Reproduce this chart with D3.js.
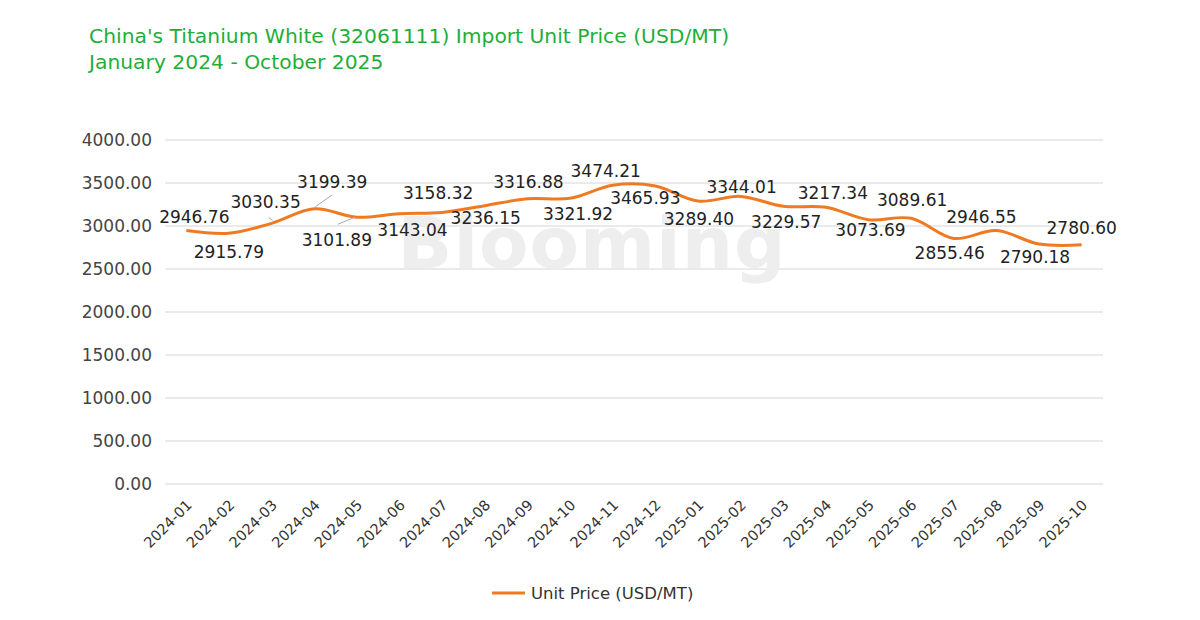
<!DOCTYPE html>
<html>
<head>
<meta charset="utf-8">
<script src="https://cdn.jsdelivr.net/npm/d3@7"></script>
<style>
  body { margin: 0; background: #fff; }
  svg text { font-family: "DejaVu Sans", sans-serif; }
</style>
</head>
<body>
<div id="chart"></div>
<script>
var months = ["2024-01","2024-02","2024-03","2024-04","2024-05","2024-06","2024-07","2024-08","2024-09","2024-10","2024-11","2024-12",
  "2025-01","2025-02","2025-03","2025-04","2025-05","2025-06","2025-07","2025-08","2025-09","2025-10"];
var unitPrice = [2946.76, 2915.79, 3030.35, 3199.39, 3101.89, 3143.04, 3158.32, 3236.15, 3316.88, 3321.92, 3474.21, 3465.93,
  3289.40, 3344.01, 3229.57, 3217.34, 3073.69, 3089.61, 2855.46, 2946.55, 2790.18, 2780.60];
var yTicks = [0, 500, 1000, 1500, 2000, 2500, 3000, 3500, 4000];

// label placement (pixel offsets from the point), like excel's dragged labels
var labelDx = [8, 0, -6, 18, -20, 13, -4, 1, 1, 8, -7, -10, 1, 1, 3, 7, 2, 1, -4, -15, -4, 0];
var labelDy = [-14, 19, -21, -27, 23, 16, -19, 12, -17, 16, -14, 12, 18, -9, 16, -14, 10, -18, 15, -14, 13, -17];
// leader lines: index, then offsets from the point [x1, y1, x2, y2]
var leaderLines = [
  {i: 2, o: [-3, -6, 1, -3]},
  {i: 3, o: [1, -2, 18, -14]},
  {i: 4, o: [-19, 7, -2, 0]}
];

var width = 1200, height = 620;
var margin = {top: 140, right: 97, bottom: 136, left: 165};

var svg = d3.select("#chart").append("svg")
  .attr("width", width)
  .attr("height", height);

// title
svg.append("text").attr("x", 89).attr("y", 43)
  .attr("fill", "#1fae3a").attr("font-size", 20.3)
  .text("China's Titanium White (32061111) Import Unit Price (USD/MT)");
svg.append("text").attr("x", 89).attr("y", 69)
  .attr("fill", "#1fae3a").attr("font-size", 20.3)
  .text("January 2024 - October 2025");

var x = d3.scalePoint()
  .domain(months)
  .range([margin.left, width - margin.right])
  .padding(0.5);

var y = d3.scaleLinear()
  .domain([0, 4000])
  .range([height - margin.bottom, margin.top]);

// gridlines
svg.append("g").selectAll("line").data(yTicks).enter().append("line")
  .attr("x1", margin.left).attr("x2", width - margin.right)
  .attr("y1", d => y(d)).attr("y2", d => y(d))
  .attr("stroke", "#e3e3e3").attr("stroke-width", 1.5);

// watermark
svg.append("text").attr("x", 592).attr("y", 268)
  .attr("text-anchor", "middle").attr("font-size", 72).attr("font-weight", "bold")
  .attr("fill", "#eeeeee").attr("letter-spacing", 1)
  .text("Blooming");

// y axis labels
var yAxis = d3.axisLeft(y).tickValues(yTicks).tickFormat(d3.format(".2f")).tickSize(0).tickPadding(13);
var gy = svg.append("g").attr("transform", "translate(" + margin.left + ",0)").call(yAxis);
gy.select(".domain").remove();
gy.selectAll("text").attr("font-size", 17).attr("fill", "#444").attr("font-family", "DejaVu Sans, sans-serif");

// x axis labels
var xAxis = d3.axisBottom(x).tickSize(0).tickPadding(0);
var gx = svg.append("g").attr("transform", "translate(0," + (height - margin.bottom) + ")").call(xAxis);
gx.select(".domain").remove();
gx.selectAll("text")
  .attr("font-size", 14.5).attr("fill", "#333").attr("font-family", "DejaVu Sans, sans-serif")
  .attr("text-anchor", "end")
  .attr("dy", null)
  .attr("transform", "translate(6,22) rotate(-45)");

// line
var line = d3.line()
  .x((d, i) => x(months[i]))
  .y(d => y(d))
  .curve(d3.curveCatmullRom.alpha(0.5));

svg.append("path").datum(unitPrice)
  .attr("d", line)
  .attr("fill", "none")
  .attr("stroke", "#f07a22")
  .attr("stroke-width", 3);

// leader lines
svg.append("g").selectAll("line").data(leaderLines).enter().append("line")
  .attr("x1", d => x(months[d.i]) + d.o[0])
  .attr("y1", d => y(unitPrice[d.i]) + d.o[1])
  .attr("x2", d => x(months[d.i]) + d.o[2])
  .attr("y2", d => y(unitPrice[d.i]) + d.o[3])
  .attr("stroke", "#aaa").attr("stroke-width", 1);

// data labels
svg.append("g").selectAll("text").data(unitPrice).enter().append("text")
  .attr("x", (d, i) => x(months[i]) + labelDx[i])
  .attr("y", (d, i) => y(d) + labelDy[i])
  .attr("dy", "0.35em")
  .attr("text-anchor", "middle")
  .attr("font-size", 17)
  .attr("fill", "#222")
  .text(d => d.toFixed(2));

// legend
var legend = svg.append("g").attr("transform", "translate(492,593)");
legend.append("line").attr("x1", 0).attr("x2", 33).attr("y1", 0).attr("y2", 0)
  .attr("stroke", "#f07a22").attr("stroke-width", 3);
legend.append("text").attr("x", 39).attr("y", 0).attr("dy", "0.35em")
  .attr("font-size", 16.5).attr("fill", "#333")
  .text("Unit Price (USD/MT)");
</script>
</body>
</html>
